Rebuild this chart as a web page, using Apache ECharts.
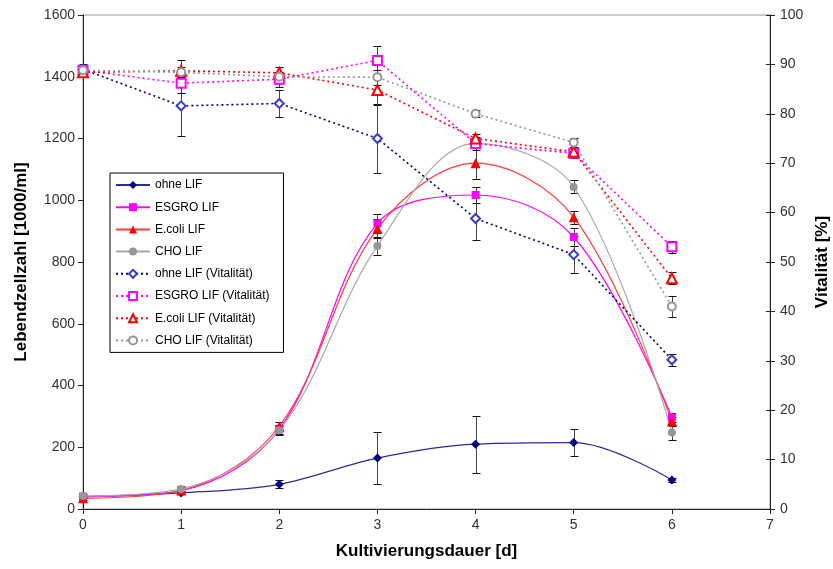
<!DOCTYPE html>
<html><head><meta charset="utf-8">
<script src="https://cdn.jsdelivr.net/npm/echarts@6/dist/echarts.min.js"></script>
<style>html,body{margin:0;padding:0;background:#fff}#c{width:833px;height:569px}</style>
</head><body><div id="c"></div>
<script>
// ---- data ----
const days = [0, 1, 2, 3, 4, 5, 6];
const xTicks = [0, 1, 2, 3, 4, 5, 6, 7];
const leftTicks = [0, 200, 400, 600, 800, 1000, 1200, 1400, 1600];
const rightTicks = [0, 10, 20, 30, 40, 50, 60, 70, 80, 90, 100];

const ohneLIF      = [40, 52, 80, 165, 210, 215, 94];
const ohneLIFErr   = [3, 5, 13, 85, 92, 44, 5];
const esgroLIF     = [40, 60, 258, 925, 1017, 881, 297];
const esgroLIFErr  = [5, 5, 15, 30, 25, 30, 15];
const ecoliLIF     = [35, 60, 268, 908, 1120, 945, 284];
const ecoliLIFErr  = [5, 5, 15, 30, 50, 21, 15];
const choLIF       = [42, 65, 255, 852, 1184, 1043, 248];
const choLIFErr    = [5, 8, 15, 30, 20, 21, 25];

const ohneVit      = [89.0, 81.6, 82.1, 75.0, 58.8, 51.5, 30.2];
const ohneVitErr   = [1, 6.1, 2.8, 6.9, 4.4, 3.7, 1.2];
const esgroVit     = [88.8, 86.2, 87.0, 90.8, 74.0, 72.0, 53.1];
const esgroVitErr  = [0.8, 2, 1.5, 3, 1, 1, 1.2];
const ecoliVit     = [88.4, 88.7, 88.3, 84.8, 75.0, 72.3, 46.7];
const ecoliVitErr  = [0.8, 2.2, 1.1, 3, 1, 1, 1.2];
const choVit       = [88.8, 88.4, 87.5, 87.4, 80.0, 74.2, 41.0];
const choVitErr    = [0.8, 1, 1, 1.5, 0.7, 1, 2.2];

const names = ['ohne LIF', 'ESGRO LIF', 'E.coli LIF', 'CHO LIF',
  'ohne LIF (Vitalität)', 'ESGRO LIF (Vitalität)', 'E.coli LIF (Vitalität)', 'CHO LIF (Vitalität)'];

// ---- helpers ----
const FONT = 'Liberation Sans, Arial, sans-serif';
function pts(vals) { return days.map((d, i) => [d, vals[i]]); }
function errPts(vals, errs) { return days.map((d, i) => [d, vals[i], errs[i]]); }
function errRender(params, api) {
  const x = api.value(0), y = api.value(1), e = api.value(2);
  const t = api.coord([x, y + e]), b = api.coord([x, y - e]);
  const w = 4, st = { stroke: '#111', lineWidth: 1 };
  const cx = Math.round(t[0]) + 0.5;
  const ty = Math.round(t[1]) + 0.5, by = Math.round(b[1]) + 0.5;
  return { type: 'group', children: [
    { type: 'line', shape: { x1: cx, y1: ty, x2: cx, y2: by }, style: { stroke: '#444', lineWidth: 1 } },
    { type: 'line', shape: { x1: cx - w, y1: ty, x2: cx + w, y2: ty }, style: st },
    { type: 'line', shape: { x1: cx - w, y1: by, x2: cx + w, y2: by }, style: st }
  ]};
}
function errSeries(vals, errs, yIdx) {
  return { type: 'custom', yAxisIndex: yIdx, renderItem: errRender, data: errPts(vals, errs),
    encode: { x: 0, y: 1 }, z: 1, silent: true, clip: false };
}
function cellSeries(name, vals, color, symbol, size, lineColor) {
  return { name, type: 'line', yAxisIndex: 0, data: pts(vals), smooth: 0.35,
    symbol, symbolSize: size, showSymbol: true, z: 3,
    itemStyle: { color, opacity: 1 },
    lineStyle: { color: lineColor || color, width: 1.2 } };
}
function vitSeries(name, vals, color, symbol, size, lineColor) {
  return { name, type: 'line', yAxisIndex: 1, data: pts(vals), smooth: false,
    symbol, symbolSize: size, showSymbol: true, z: 3,
    itemStyle: { color, borderColor: color, borderWidth: 1.2 },
    lineStyle: { color: lineColor || color, width: 1.6, type: [2, 3] } };
}
const plain = v => String(v);

const chart = echarts.init(document.getElementById('c'), null, { renderer: 'canvas' });
chart.setOption({
  animation: false,
  backgroundColor: '#fff',
  textStyle: { fontFamily: FONT },
  grid: { left: 83, right: 63, top: 15, bottom: 60, outerBoundsMode: 'none', containLabel: false,
    show: true, borderColor: '#999', borderWidth: 1, backgroundColor: 'transparent' },
  legend: {
    orient: 'vertical', left: 110, top: 173,
    itemWidth: 34, itemHeight: 10, itemGap: 10.2,
    padding: [6, 14, 6, 5],
    borderColor: '#000', borderWidth: 1, borderRadius: 0, backgroundColor: '#fff',
    textStyle: { fontSize: 12, color: '#000', fontFamily: FONT },
    data: names
  },
  xAxis: {
    type: 'value', min: xTicks[0], max: xTicks[xTicks.length - 1], interval: 1,
    name: 'Kultivierungsdauer [d]', nameLocation: 'middle', nameGap: 34,
    nameTextStyle: { fontSize: 17, fontWeight: 'bold', color: '#000', fontFamily: FONT },
    axisLine: { lineStyle: { color: '#222', width: 1 } },
    axisTick: { show: true, length: 5, lineStyle: { color: '#222' } },
    axisLabel: { fontSize: 14, color: '#333', margin: 9, fontFamily: FONT, formatter: plain },
    splitLine: { show: false }
  },
  yAxis: [
    {
      type: 'value', position: 'left', min: leftTicks[0], max: leftTicks[leftTicks.length - 1], interval: 200,
      name: 'Lebendzellzahl [1000/ml]', nameLocation: 'middle', nameGap: 53,
      nameTextStyle: { fontSize: 17, fontWeight: 'bold', color: '#000', fontFamily: FONT },
      axisLine: { show: true, lineStyle: { color: '#222', width: 1 } },
      axisTick: { show: true, length: 5, lineStyle: { color: '#222' } },
      axisLabel: { fontSize: 14, color: '#333', margin: 8, fontFamily: FONT, formatter: plain },
      splitLine: { show: false }
    },
    {
      type: 'value', position: 'right', min: rightTicks[0], max: rightTicks[rightTicks.length - 1], interval: 10,
      name: 'Vitalität [%]', nameLocation: 'middle', nameGap: 40, nameRotate: 90,
      nameTextStyle: { fontSize: 17, fontWeight: 'bold', color: '#000', fontFamily: FONT },
      axisLine: { show: true, lineStyle: { color: '#222', width: 1 } },
      axisTick: { show: true, length: 5, lineStyle: { color: '#222' } },
      axisLabel: { fontSize: 14, color: '#333', margin: 10, fontFamily: FONT, formatter: plain },
      splitLine: { show: false }
    },
    {
      type: 'value', position: 'right', min: rightTicks[0], max: rightTicks[rightTicks.length - 1], interval: 10,
      axisLine: { show: false }, axisLabel: { show: false },
      axisTick: { show: true, inside: true, length: 4, lineStyle: { color: '#222' } },
      splitLine: { show: false }
    }
  ],
  series: [
    errSeries(ohneLIF, ohneLIFErr, 0),
    errSeries(esgroLIF, esgroLIFErr, 0),
    errSeries(ecoliLIF, ecoliLIFErr, 0),
    errSeries(choLIF, choLIFErr, 0),
    errSeries(ohneVit, ohneVitErr, 1),
    errSeries(esgroVit, esgroVitErr, 1),
    errSeries(ecoliVit, ecoliVitErr, 1),
    errSeries(choVit, choVitErr, 1),
    cellSeries(names[0], ohneLIF, '#000080', 'diamond', 9, '#2a2a9a'),
    cellSeries(names[1], esgroLIF, '#ff00ff', 'rect', 8),
    cellSeries(names[2], ecoliLIF, '#ff0000', 'triangle', 10, '#ff3a3a'),
    cellSeries(names[3], choLIF, '#969696', 'circle', 8, '#a8a8a8'),
    vitSeries(names[4], ohneVit, '#3a3ac8', 'emptyDiamond', 9, '#000080'),
    vitSeries(names[5], esgroVit, '#ff00ff', 'emptyRect', 9),
    vitSeries(names[6], ecoliVit, '#ff0000', 'emptyTriangle', 10),
    vitSeries(names[7], choVit, '#969696', 'emptyCircle', 8)
  ]
});
</script></body></html>
